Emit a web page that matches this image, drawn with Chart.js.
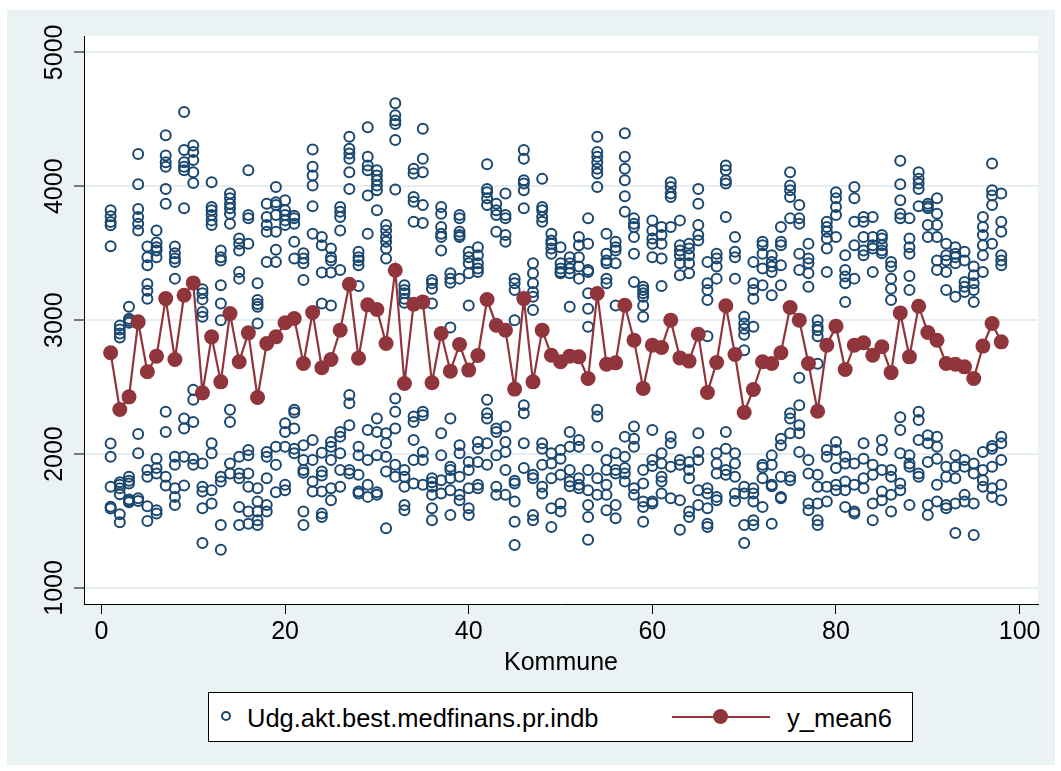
<!DOCTYPE html>
<html>
<head>
<meta charset="utf-8">
<script src="https://cdn.jsdelivr.net/npm/chart.js@4.4.1/dist/chart.umd.min.js"></script>
<style>
  body { margin: 0; background: #fff; font-family: "Liberation Sans", Arial, sans-serif; }
  #wrap { position: relative; width: 1061px; height: 771px; }
  #panel { position: absolute; left: 7px; top: 10px; width: 1048px; height: 755px; background: #eaf2f3; }
  canvas { position: absolute; left: 0; top: 0; }
  #legend { position: absolute; left: 208px; top: 692px; width: 703px; height: 48px; background: #fff; border: 1px solid #000; }
  .lg-text { position: absolute; top: 11px; font-size: 25.5px; color: #000; white-space: nowrap; }
  .lg-circle { position: absolute; left: 12px; top: 18px; width: 6px; height: 6px; border: 2px solid #1a476f; border-radius: 50%; }
  .lg-line { position: absolute; left: 463px; top: 23px; width: 98px; height: 2px; background: #90353b; }
  .lg-dot { position: absolute; left: 504px; top: 16px; width: 15px; height: 15px; border-radius: 50%; background: #90353b; }
</style>
</head>
<body>
<div id="wrap">
  <div id="panel"></div>
  <canvas id="chart" width="1061" height="771"></canvas>
  <div id="legend">
    <div class="lg-circle"></div>
    <div class="lg-text" style="left:38px">Udg.akt.best.medfinans.pr.indb</div>
    <div class="lg-line"></div>
    <div class="lg-dot"></div>
    <div class="lg-text" style="left:578px">y_mean6</div>
  </div>
</div>
<script>
// kommune number on the x axis
const kommune = [1,2,3,4,5,6,7,8,9,10,11,12,13,14,15,16,17,18,19,20,21,22,23,24,25,26,27,28,29,30,
  31,32,33,34,35,36,37,38,39,40,41,42,43,44,45,46,47,48,49,50,51,52,53,54,55,56,57,58,59,60,
  61,62,63,64,65,66,67,68,69,70,71,72,73,74,75,76,77,78,79,80,81,82,83,84,85,86,87,88,89,90,
  91,92,93,94,95,96,97,98]

// Udg.akt.best.medfinans.pr.indb, one list of observations per kommune
const udg = [
  [3820,3776,3733,3709,3552,2079,1980,1756,1607,1594],
  [2960,2930,2900,2870,1790,1770,1745,1700,1550,1490],
  [3100,3010,2995,2980,1830,1800,1780,1660,1650,1640],
  [4240,4015,3830,3770,3720,3670,2150,2005,1670,1650],
  [3550,3470,3410,3270,3220,3160,1880,1830,1610,1500],
  [3670,3580,3545,3520,3470,1965,1895,1855,1580,1555],
  [4380,4230,4180,4145,3980,3870,2315,2165,1830,1765],
  [3550,3500,3460,3435,3310,1980,1920,1745,1680,1620],
  [4555,4270,4180,4145,4120,3835,2265,2190,1980,1765],
  [4305,4255,4195,4105,4025,2480,2405,2240,1965,1920],
  [3230,3200,3155,3060,3025,1930,1755,1720,1595,1335],
  [4030,3845,3820,3785,3745,3710,2080,2005,1730,1630],
  [3520,3470,3445,3260,3125,3000,1830,1795,1470,1285],
  [3945,3910,3870,3835,3795,3720,2330,2240,1930,1855],
  [3610,3570,3520,3360,3310,1980,1855,1820,1605,1470],
  [4120,3785,3760,3570,2030,1990,1855,1755,1570,1480],
  [3275,3150,3120,3100,2975,1745,1645,1570,1505,1470],
  [3870,3770,3710,3660,3435,2015,1980,1820,1620,1570],
  [3995,3880,3860,3785,3660,3525,3435,2055,1920,1715],
  [3895,3820,3785,3745,3710,2230,2165,2055,1770,1730],
  [3780,3760,3720,3585,3460,2330,2310,2190,2040,2005],
  [3500,3460,3425,3300,2065,1955,1880,1860,1570,1470],
  [4275,4145,4080,4005,3850,3645,2105,1955,1795,1720],
  [3620,3560,3355,3125,2010,1870,1840,1720,1555,1530],
  [3535,3470,3445,3355,3110,2090,2055,1955,1745,1655],
  [3845,3810,3770,3670,3375,2165,2130,2005,1880,1755],
  [4370,4280,4245,4205,4105,3980,2440,2380,2215,1880,1855],
  [3510,3470,3445,3410,3255,2055,1990,1845,1720,1705],
  [4440,4220,4155,4120,3930,3645,2180,1955,1770,1680],
  [4120,4080,4045,4005,3970,3820,2265,2165,1990,1715,1695],
  [3710,3670,3620,3585,3535,3460,2155,2080,1980,1870,1445],
  [4620,4530,4490,4465,4345,3975,2415,2315,2190,1920,1830],
  [3260,3225,3200,3160,3130,1880,1830,1755,1620,1580],
  [4130,4095,3920,3885,3735,2280,2240,2105,1955,1780],
  [4430,4205,4105,3860,3725,2315,2290,2015,1955,1770],
  [3300,3275,3235,3125,1820,1790,1755,1695,1595,1505],
  [3845,3795,3695,3645,3620,3520,2155,1990,1805,1705],
  [3350,3310,3280,2945,2265,1905,1880,1820,1730,1545],
  [3785,3760,3660,3635,3620,3310,2065,2005,1830,1695,1655],
  [3510,3470,3425,3350,3110,1940,1880,1745,1595,1545],
  [3545,3485,3425,3385,3360,2090,2040,1940,1770,1745],
  [4165,3980,3955,3910,3860,2405,2305,2265,2080,1920],
  [3870,3820,3785,3660,2190,2165,1990,1755,1695],
  [3945,3785,3760,3635,3585,2205,2090,2015,1880,1695],
  [3310,3275,3225,3000,1800,1780,1645,1495,1320],
  [4270,4205,4045,4020,3970,3835,2365,2305,2080,1895],
  [3425,3350,3275,3210,3175,3075,1845,1820,1545,1505],
  [4055,3845,3820,3770,3735,2080,2040,1920,1755,1705],
  [3645,3595,3570,3535,3495,2005,1930,1820,1595,1455],
  [3545,3425,3385,3360,3350,2030,1965,1845,1630,1570],
  [3470,3425,3385,3350,3100,2165,2055,1880,1795,1760],
  [3620,3560,3470,3400,3310,2105,2055,1820,1770,1745],
  [3760,3570,3375,3360,3200,3085,2950,1880,1730,1620,1530,1360],
  [4370,4255,4220,4180,4130,4095,3995,2330,2280,2055,1820,1695],
  [3645,3495,3445,3425,3310,3275,1955,1880,1770,1695,1580],
  [3585,3545,3520,3425,3110,2005,1880,1855,1620,1520],
  [4395,4220,4130,4045,3925,3810,2130,1980,1895,1855,1795],
  [3760,3720,3695,3620,3495,3285,2205,2115,2055,1745,1695],
  [3250,3225,3200,3175,3110,3025,1880,1780,1645,1605,1495],
  [3745,3670,3610,3570,3470,2180,1955,1910,1645,1630],
  [3695,3635,3570,3460,3255,2005,1930,1830,1795,1705],
  [4030,3995,3945,3920,3695,2130,2080,1905,1670],
  [3745,3560,3520,3485,3425,3335,1955,1920,1655,1435],
  [3570,3535,3485,3425,3350,1940,1880,1820,1570,1530],
  [3980,3870,3710,3635,3595,2155,2015,1955,1730,1620],
  [3435,3275,3225,3150,2880,1745,1705,1595,1480,1455],
  [3495,3460,3400,3310,2005,1930,1855,1680,1655],
  [4155,4120,4045,4020,3770,2165,2040,1880,1845],
  [3620,3510,3470,3310,2005,1930,1830,1705,1650],
  [3025,2975,2935,2890,2775,1755,1705,1470,1335],
  [3435,3275,3225,3160,2950,1745,1705,1645,1505,1470],
  [3585,3560,3495,3385,3260,1920,1900,1820,1605],
  [3485,3435,3400,3360,3185,1990,1920,1770,1760,1480],
  [3695,3585,3560,3410,3260,2115,2065,1830,1680,1670],
  [4105,4005,3970,3920,3760,2305,2265,2155,1830,1805],
  [3860,3760,3720,3495,3375,2570,2365,2215,2155,2015],
  [3570,3460,3425,3350,3250,1955,1855,1630,1580],
  [3000,2950,2925,2880,2675,1845,1755,1630,1505,1470],
  [3735,3695,3660,3610,3535,3360,2030,1980,1755,1645],
  [3955,3910,3845,3785,3620,2090,2030,1895,1770,1730],
  [3485,3375,3325,3275,3135,1980,1930,1795,1730,1605],
  [3995,3910,3735,3560,3310,1930,1770,1570,1555],
  [3770,3735,3620,3520,3485,2080,1965,1820,1745],
  [3770,3620,3560,3535,3360,1920,1845,1630,1505],
  [3635,3610,3560,3520,3500,2105,2030,1880,1720,1655],
  [3435,3400,3310,3235,3150,1880,1830,1695,1570],
  [4190,4015,3895,3795,3760,2275,2180,2005,1780,1730],
  [3760,3610,3545,3495,3330,3225,1990,1930,1905,1620],
  [4105,4055,4020,3980,3850,2315,2255,2105,1855,1830],
  [3870,3850,3835,3710,3620,2140,2080,1940,1620,1545],
  [3910,3795,3710,3620,3445,3375,2130,2055,1965,1770,1645],
  [3570,3485,3445,3360,3225,1905,1830,1620,1595],
  [3545,3495,3470,3425,3175,1990,1905,1820,1630,1410],
  [3510,3445,3285,3250,3210,1955,1905,1695,1645],
  [3400,3335,3275,3225,3135,1930,1855,1630,1395],
  [3770,3695,3635,3560,3485,3360,2015,1880,1805,1755],
  [4170,3970,3930,3860,3570,2060,2040,1905,1745,1680],
  [3945,3735,3660,3485,3445,3410,2130,2080,1955,1770,1655]
]

// y_mean6 per kommune
const yMean6 = [2756,2333,2427,2987,2614,2731,3161,2706,3186,3278,2457,2875,2539,3049,2689,2905,
  2422,2825,2875,2980,3012,2676,3057,2644,2706,2925,3268,2716,3114,3079,2825,3373,2527,3119,
  3136,2532,2900,2619,2818,2627,2736,3154,2962,2925,2485,3161,2539,2925,2738,2689,2731,2726,
  2564,3199,2671,2681,3111,2850,2490,2813,2796,3000,2718,2694,2895,2460,2684,3107,2743,2310,
  2482,2689,2676,2756,3094,3000,2676,2320,2813,2955,2631,2813,2831,2738,2801,2608,3054,2726,
  3104,2908,2850,2676,2671,2651,2564,2806,2975,2838]

const xTicks = [0, 20, 40, 60, 80, 100]
const yTicks = [1000, 2000, 3000, 4000, 5000]

const navy = '#1a476f'
const maroon = '#90353b'
const fontFamily = '"Liberation Sans", Arial, sans-serif'

const scatterPoints = []
udg.forEach((vals, i) => {
  vals.forEach(v => scatterPoints.push({ x: kommune[i], y: v }))
})
const meanPoints = yMean6.map((v, i) => ({ x: kommune[i], y: v }))

// white plot region
const plotBg = {
  id: 'plotBg',
  beforeDraw(chart) {
    const { ctx, chartArea } = chart
    ctx.save()
    ctx.fillStyle = '#fff'
    ctx.fillRect(chartArea.left, chartArea.top, chartArea.right - chartArea.left, chartArea.bottom - chartArea.top)
    ctx.restore()
  }
}

// vertical y tick labels, Stata style
const yLabels = {
  id: 'yLabels',
  afterDraw(chart) {
    const { ctx } = chart
    const y = chart.scales.y
    ctx.save()
    ctx.fillStyle = '#000'
    ctx.font = '25px ' + fontFamily
    ctx.textAlign = 'center'
    ctx.textBaseline = 'alphabetic'
    yTicks.forEach(v => {
      ctx.save()
      ctx.translate(62, y.getPixelForValue(v))
      ctx.rotate(-Math.PI / 2)
      ctx.fillText(String(v), 0, 0)
      ctx.restore()
    })
    ctx.restore()
  }
}

Chart.defaults.font.family = fontFamily
Chart.defaults.color = '#000'

new Chart(document.getElementById('chart'), {
  type: 'scatter',
  data: {
    datasets: [
      {
        label: 'y_mean6',
        data: meanPoints,
        showLine: true,
        borderColor: maroon,
        borderWidth: 2.2,
        pointRadius: 7.5,
        pointBackgroundColor: maroon,
        pointBorderWidth: 0,
        order: 1
      },
      {
        label: 'Udg.akt.best.medfinans.pr.indb',
        data: scatterPoints,
        pointStyle: 'circle',
        pointRadius: 5,
        pointBorderWidth: 2,
        pointBorderColor: navy,
        pointBackgroundColor: 'rgba(0,0,0,0)',
        order: 2
      }
    ]
  },
  options: {
    responsive: false,
    animation: false,
    devicePixelRatio: 1,
    layout: { padding: { left: 0, top: 36, right: 23, bottom: 0 } },
    scales: {
      x: {
        type: 'linear',
        min: -1.9,
        max: 102,
        afterFit: s => { s.height = 167 },
        afterBuildTicks: s => { s.ticks = xTicks.map(v => ({ value: v })) },
        border: { display: true, color: '#000', width: 1 },
        grid: { drawOnChartArea: false, drawTicks: true, tickLength: 10, tickColor: '#000', tickWidth: 1 },
        ticks: { font: { size: 25 }, padding: 3, maxRotation: 0, color: '#000' },
        title: { display: true, text: 'Kommune', font: { size: 25 }, color: '#000', padding: { top: 0, bottom: 93 } }
      },
      y: {
        type: 'linear',
        min: 880,
        max: 5122,
        afterFit: s => { s.width = 84 },
        afterBuildTicks: s => { s.ticks = yTicks.map(v => ({ value: v })) },
        border: { display: true, color: '#000', width: 1 },
        grid: { color: '#e6eef1', lineWidth: 2, drawTicks: true, tickLength: 10, tickColor: '#000', tickWidth: 1 },
        ticks: { display: false }
      }
    },
    plugins: {
      legend: { display: false },
      tooltip: { enabled: false }
    }
  },
  plugins: [plotBg, yLabels]
})
</script>
</body>
</html>
